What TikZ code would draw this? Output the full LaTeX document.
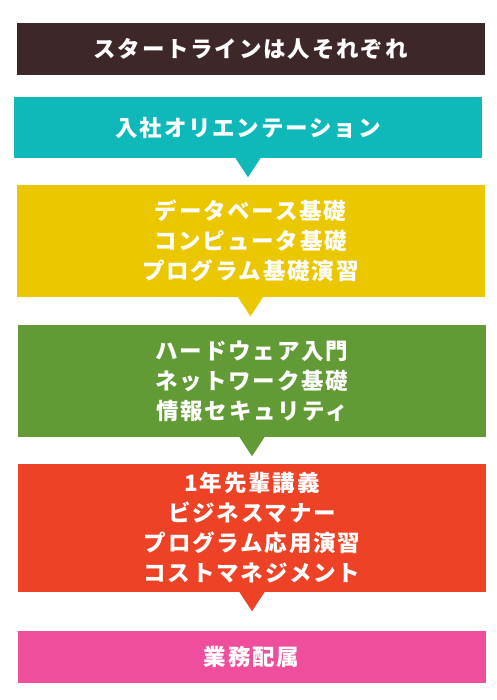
\documentclass[tikz,border=0pt]{standalone}
\usepackage{fontspec}
\setmainfont{Noto Sans CJK JP}[LetterSpace=8]
\definecolor{startbrown}{HTML}{3D2729}
\definecolor{orientteal}{HTML}{10B9B9}
\definecolor{basicyellow}{HTML}{EBC700}
\definecolor{netgreen}{HTML}{629A36}
\definecolor{seniorred}{HTML}{EE4227}
\definecolor{deploypink}{HTML}{EE4E9B}
\tikzset{
	stepbox/.style={minimum width=468pt, inner sep=0pt, align=center, text=white,
		font=\fontsize{22.5pt}{30pt}\selectfont\bfseries},
}
\newcommand{\pointer}[2]{%
	\fill[#2] ([xshift=-12.5pt]#1.south) -- ([xshift=12.5pt]#1.south) -- ([yshift=-19pt]#1.south) -- cycle;}
\begin{document}
\begin{tikzpicture}[x=1pt,y=-1pt]
	\useasboundingbox (0,0) rectangle (496,700);

	% Start line
	\node[stepbox, fill=startbrown, minimum height=52pt] (start) at (250.5,49) {スタートラインは人それぞれ};

	% Orientation
	\node[stepbox, fill=orientteal, minimum height=61pt] (orient) at (248,127.5) {入社オリエンテーション};
	\pointer{orient}{orientteal}

	% Basics
	\node[stepbox, fill=basicyellow, minimum height=112pt] (basic) at (250.5,241) {データベース基礎\\コンピュータ基礎\\プログラム基礎演習};
	\pointer{basic}{basicyellow}

	% Hardware and network
	\node[stepbox, fill=netgreen, minimum height=112pt] (network) at (252,381) {ハードウェア入門\\ネットワーク基礎\\情報セキュリティ};
	\pointer{network}{netgreen}

	% Senior lectures
	\node[stepbox, fill=seniorred, minimum height=128pt] (senior) at (252,528) {1年先輩講義\\ビジネスマナー\\プログラム応用演習\\コストマネジメント};
	\pointer{senior}{seniorred}

	% Deployment
	\node[stepbox, fill=deploypink, minimum height=52pt] (deploy) at (251.5,657) {業務配属};

\end{tikzpicture}
\end{document}
